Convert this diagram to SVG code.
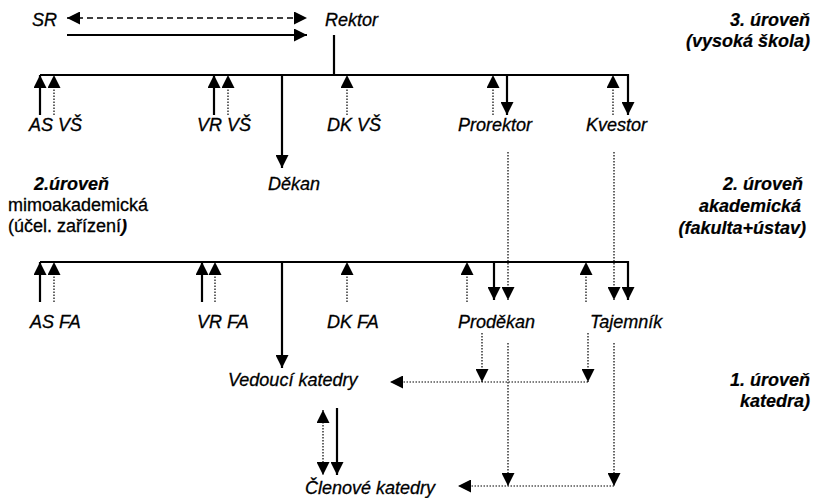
<svg xmlns="http://www.w3.org/2000/svg" width="815" height="498" viewBox="0 0 815 498">
<style>
text{font-family:"Liberation Sans",Arial,sans-serif;font-size:18px;font-style:italic;fill:#000;stroke:#000;stroke-width:0.3}
.b{font-weight:bold;stroke-width:0.2}
.n{font-style:normal}
.s{stroke:#000;stroke-width:2.2;fill:none}
.d{stroke:#000;stroke-width:1.2;stroke-dasharray:1.5,1.5;fill:none}
.dash{stroke:#000;stroke-width:1.6;stroke-dasharray:6,4;fill:none}
</style>
<defs>
<marker id="ah" markerUnits="userSpaceOnUse" markerWidth="13" markerHeight="13" viewBox="0 0 13 13" refX="13" refY="6.5" orient="auto-start-reverse"><path d="M0,0 L13,6.5 L0,13 z" fill="#000"/></marker>
</defs>
<g id="connectors">
<path class="dash" d="M67,18 H307" marker-start="url(#ah)" marker-end="url(#ah)"/>
<path class="s" d="M67,35 H307" marker-end="url(#ah)"/>
<path class="s" d="M334,35 V75"/>
<path class="s" d="M40,75 H628 V115" marker-end="url(#ah)"/>
<path class="s" d="M40,115 V75" marker-end="url(#ah)"/>
<path class="d" d="M54,115 V75" marker-end="url(#ah)"/>
<path class="s" d="M214,115 V75" marker-end="url(#ah)"/>
<path class="d" d="M228,115 V75" marker-end="url(#ah)"/>
<path class="d" d="M347,115 V75" marker-end="url(#ah)"/>
<path class="d" d="M493,115 V75" marker-end="url(#ah)"/>
<path class="s" d="M507,75 V115" marker-end="url(#ah)"/>
<path class="d" d="M613,115 V75" marker-end="url(#ah)"/>
<path class="s" d="M282,75 V168" marker-end="url(#ah)"/>
<path class="d" d="M508,152 V300" marker-end="url(#ah)"/>
<path class="d" d="M614,152 V300" marker-end="url(#ah)"/>
<path class="s" d="M40,262 H628 V300" marker-end="url(#ah)"/>
<path class="s" d="M40,302 V262" marker-end="url(#ah)"/>
<path class="d" d="M54,302 V262" marker-end="url(#ah)"/>
<path class="s" d="M202,302 V262" marker-end="url(#ah)"/>
<path class="d" d="M215,302 V262" marker-end="url(#ah)"/>
<path class="d" d="M347,302 V262" marker-end="url(#ah)"/>
<path class="d" d="M467,302 V262" marker-end="url(#ah)"/>
<path class="s" d="M494,262 V300" marker-end="url(#ah)"/>
<path class="d" d="M586,302 V262" marker-end="url(#ah)"/>
<path class="s" d="M282,262 V368" marker-end="url(#ah)"/>
<path class="d" d="M482,333 V382" marker-end="url(#ah)"/>
<path class="d" d="M588,333 V382" marker-end="url(#ah)"/>
<path class="d" d="M588,382 H390" marker-end="url(#ah)"/>
<path class="d" d="M508,343 V486" marker-end="url(#ah)"/>
<path class="d" d="M614,343 V486" marker-end="url(#ah)"/>
<path class="d" d="M614,486 H458" marker-end="url(#ah)"/>
<path class="d" d="M323,410 V475" marker-start="url(#ah)" marker-end="url(#ah)"/>
<path class="s" d="M337,408 V475" marker-end="url(#ah)"/>
</g>
<g id="sr"><text x="32" y="26">SR</text></g>
<g id="rektor"><text x="325" y="26">Rektor</text></g>
<g id="level3"><text class="b" x="810" y="26" text-anchor="end">3. úroveň</text><text class="b" x="810" y="47" text-anchor="end">(vysoká škola)</text></g>
<g id="as-vs"><text x="29" y="131">AS VŠ</text></g>
<g id="vr-vs"><text x="197" y="131">VR VŠ</text></g>
<g id="dk-vs"><text x="327" y="131">DK VŠ</text></g>
<g id="prorektor"><text x="458" y="131">Prorektor</text></g>
<g id="kvestor"><text x="586" y="131">Kvestor</text></g>
<g id="level2-left"><text class="b" x="34" y="190">2.úroveň</text><text class="n" x="8" y="211">mimoakademická</text><text class="n" x="8" y="232">(účel. zařízení<tspan class="b" font-style="italic">)</tspan></text></g>
<g id="dekan"><text x="268" y="190">Děkan</text></g>
<g id="level2-right"><text class="b" x="803" y="190" text-anchor="end">2. úroveň</text><text class="b" x="801" y="212" text-anchor="end">akademická</text><text class="b" x="806" y="234" text-anchor="end">(fakulta+ústav)</text></g>
<g id="as-fa"><text x="30" y="328">AS FA</text></g>
<g id="vr-fa"><text x="197" y="328">VR FA</text></g>
<g id="dk-fa"><text x="327" y="328">DK FA</text></g>
<g id="prodekan"><text x="458" y="328">Proděkan</text></g>
<g id="tajemnik"><text x="590" y="328">Tajemník</text></g>
<g id="vedouci"><text x="228" y="386">Vedoucí katedry</text></g>
<g id="clenove"><text x="305" y="494">Členové katedry</text></g>
<g id="level1"><text class="b" x="810" y="386" text-anchor="end">1. úroveň</text><text class="b" x="810" y="407" text-anchor="end">katedra)</text></g>
</svg>
